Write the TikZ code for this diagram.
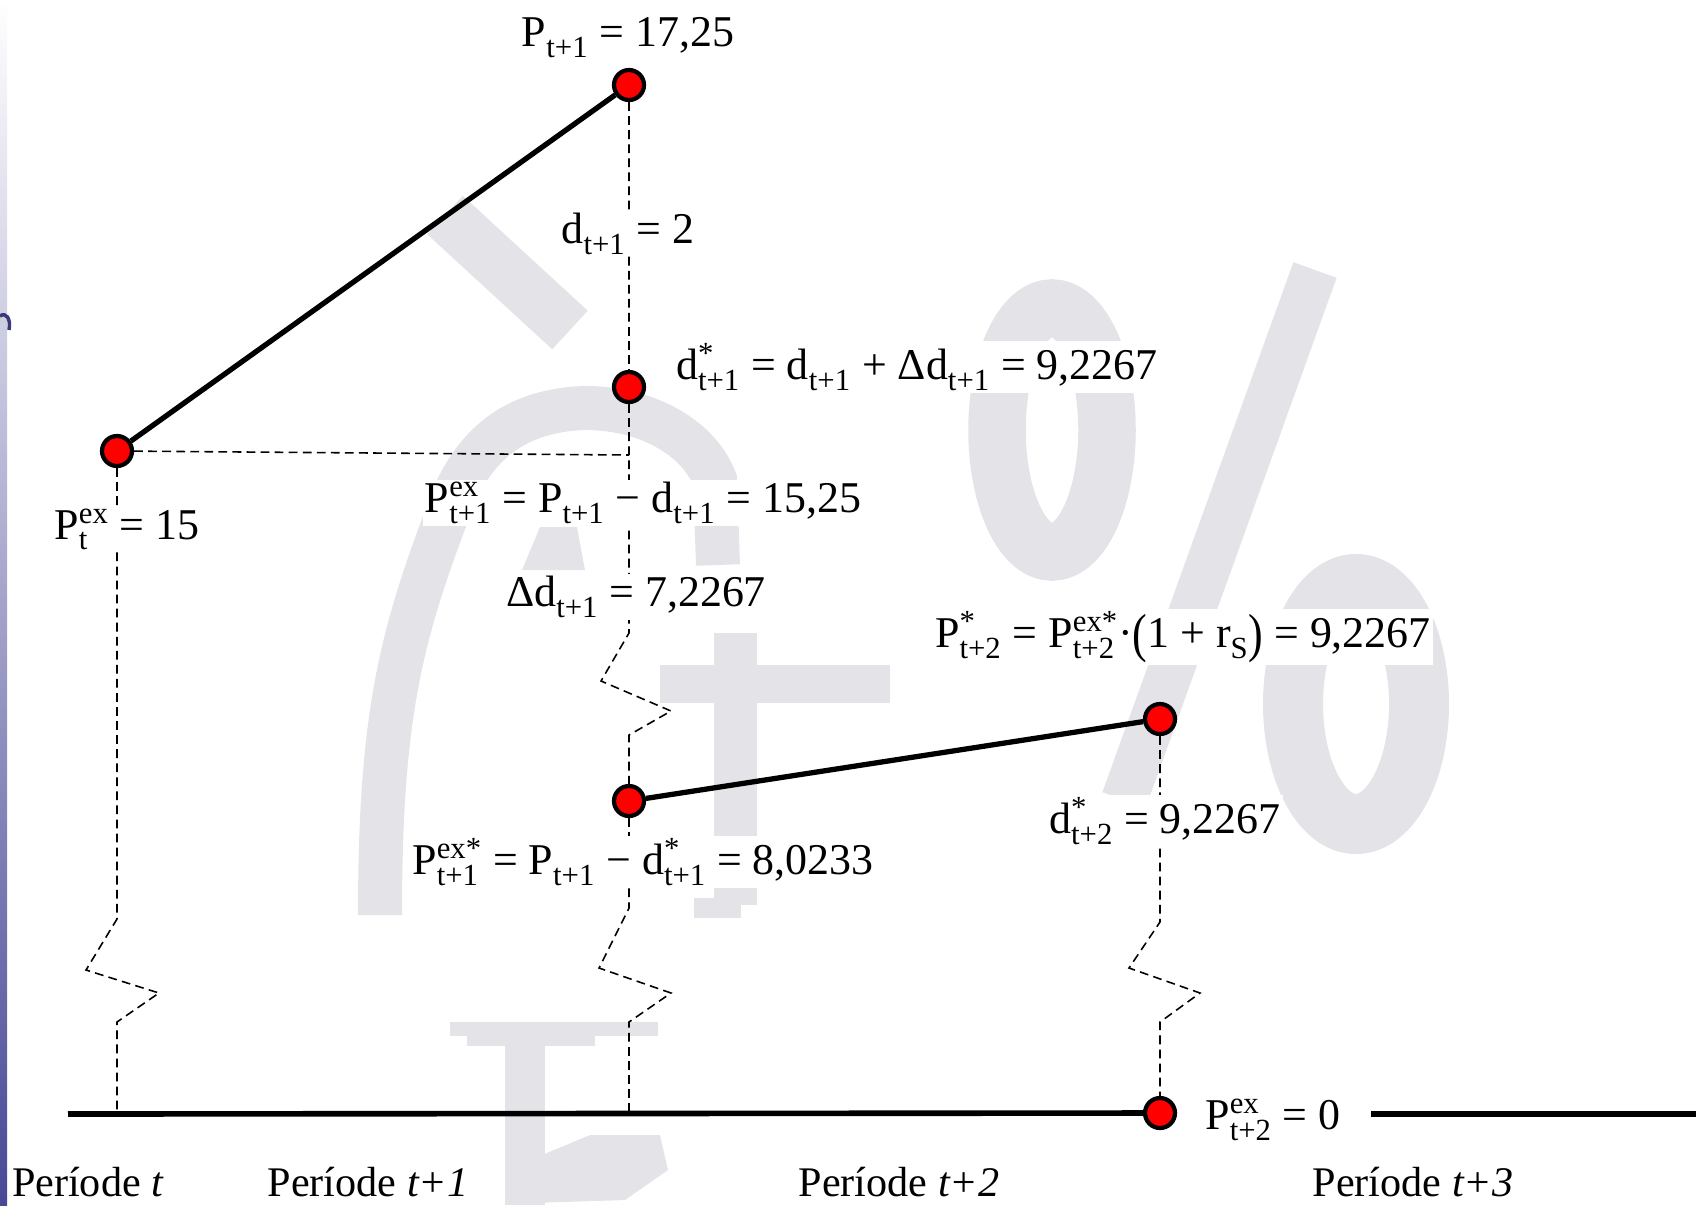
\documentclass[tikz,border=0pt]{standalone}
\usepackage{fontspec}
\setmainfont{Liberation Serif}
\usepackage{amsmath}
\usepackage{graphicx}
\usepackage{tikz}

\definecolor{wmgray}{RGB}{228,228,232}
\definecolor{stripblue}{RGB}{72,72,150}

\newcommand{\eqfont}{\fontsize{25}{30}\selectfont}
\newcommand{\perfont}{\fontsize{24}{28}\selectfont}
\newcommand{\supsub}[2]{$^{\text{#1}}_{\text{#2}}$}
\newcommand{\subx}[1]{$^{}_{\text{#1}}$}
\newcommand{\tallpar}[1]{\raisebox{-0.1em}{\scalebox{1}[1.22]{#1}}}

\begin{document}
\begin{tikzpicture}[x=0.02cm, y=-0.02cm,
    dot/.style={circle, draw=black, fill=red, line width=2.4pt, minimum size=0.6cm, inner sep=0pt},
    guide/.style={dash pattern=on 5pt off 3pt, line width=0.9pt},
    bold/.style={line width=3pt},
    axis/.style={line width=3.2pt},
    eq/.style={fill=white, inner sep=1pt, font=\eqfont, anchor=base},
    per/.style={font=\perfont, anchor=base}]
    \useasboundingbox (0,0) rectangle (1696,1205);

    % watermark
    \draw[wmgray, line width=1.05cm] (445,215) -- (570,330);
    \draw[wmgray, line width=0.88cm] (718,565) -- (715,480) .. controls (700,440) and (650,408) .. (585,408)
        .. controls (520,410) and (470,440) .. (445,520) .. controls (400,640) and (380,720) .. (380,915);
    \fill[wmgray] (540,527) -- (577,527) -- (585,570) -- (522,570) -- cycle;
    \fill[wmgray] (714,633) rectangle (757,905);
    \fill[wmgray] (694,898) rectangle (741,918);
    \fill[wmgray] (660,665) rectangle (890,703);
    \fill[wmgray] (450,1022) rectangle (658,1036);
    \fill[wmgray] (467,1022) rectangle (595,1046);
    \fill[wmgray] (505,1036) rectangle (545,1205);
    \fill[wmgray] (530,1160) -- (590,1135) -- (660,1135) -- (668,1170) -- (625,1200) -- (530,1203) -- cycle;
    \draw[wmgray, line width=1.15cm] (1052,430) ellipse [x radius=55, y radius=122];
    \draw[wmgray, line width=1.2cm] (1356,704) ellipse [x radius=63, y radius=120];
    \draw[wmgray, line width=0.92cm] (1315,270) -- (1124,800);

    % left border
    \shade[top color=white, bottom color=stripblue] (0,0) rectangle (7,1205);
    \draw[stripblue!80!black, line width=2pt] (0,316) .. controls (6,312) and (11,318) .. (9,330);

    % points
    \node[dot] (dA) at (117,451) {};
    \node[dot] (dB) at (629,85) {};
    \node[dot] (dC) at (629,387) {};
    \node[dot] (dD) at (629,801) {};
    \node[dot] (dE) at (1160,719) {};
    \node[dot] (dF) at (1160,1113) {};

    \coordinate (axL) at (68,1114);
    \coordinate (axR1) at (1371,1114);
    \coordinate (axR2) at (1696,1114);
    \coordinate (footA) at (117,1114);
    \coordinate (footB) at (629,1114);
    \coordinate (hB) at (629,455);

    % dashed guides
    \draw[guide] (dA) -- (hB);
    \draw[guide] (dA) -- (117,919) -- ++(-31,51) -- ++(73,23) -- ++(-42,29) -- (footA);
    \draw[guide] (dB) -- (dC) -- (629,633) -- ++(-28,48) -- ++(70,30) -- ++(-42,24) -- (dD);
    \draw[guide] (dD) -- (629,908) -- ++(-30,60) -- ++(72,25) -- ++(-42,29) -- (footB);
    \draw[guide] (dE) -- (1160,922) -- ++(-31,46) -- ++(71,25) -- ++(-40,29) -- (dF);

    % price lines
    \draw[bold] (dA) -- (dB);
    \draw[bold] (dD) -- (dE);

    % time axis
    \draw[axis] (axL) -- (dF);
    \draw[axis] (axR1) -- (axR2);

    % labels
    \node[eq] (lPt1) at (628,46) {P\subx{t+1} = 17,25};
    \node[eq] (ld1) at (628,243) {d\subx{t+1} = 2};
    \node[eq, anchor=base west] (ldst1) at (674,379) {d\supsub{*}{t+1} = d\subx{t+1} + Δd\subx{t+1} = 9,2267};
    \node[eq] (lPex1) at (643,512) {P\supsub{ex}{t+1} = P\subx{t+1} − d\subx{t+1} = 15,25};
    \node[eq] (lPex0) at (127,539) {P\supsub{ex}{t} = 15};
    \node[eq] (lDd1) at (636,606) {Δd\subx{t+1} = 7,2267};
    \node[eq] (lPst2) at (1183,647) {P\supsub{*}{t+2} = P\supsub{ex*}{t+2}·\tallpar{(}1 + r\subx{S}\tallpar{)} = 9,2267};
    \node[eq] (ldst2) at (1165,833) {d\supsub{*}{t+2} = 9,2267};
    \node[eq] (lPexs1) at (643,874) {P\supsub{ex*}{t+1} = P\subx{t+1} − d\supsub{*}{t+1} = 8,0233};
    \node[eq] (lPex2) at (1273,1129) {P\supsub{ex}{t+2} = 0};

    % periods
    \node[per] (per0) at (88,1196) {Període \textit{t}};
    \node[per] (per1) at (368,1196) {Període \textit{t+1}};
    \node[per] (per2) at (899,1196) {Període \textit{t+2}};
    \node[per] (per3) at (1413,1196) {Període \textit{t+3}};
\end{tikzpicture}
\end{document}
